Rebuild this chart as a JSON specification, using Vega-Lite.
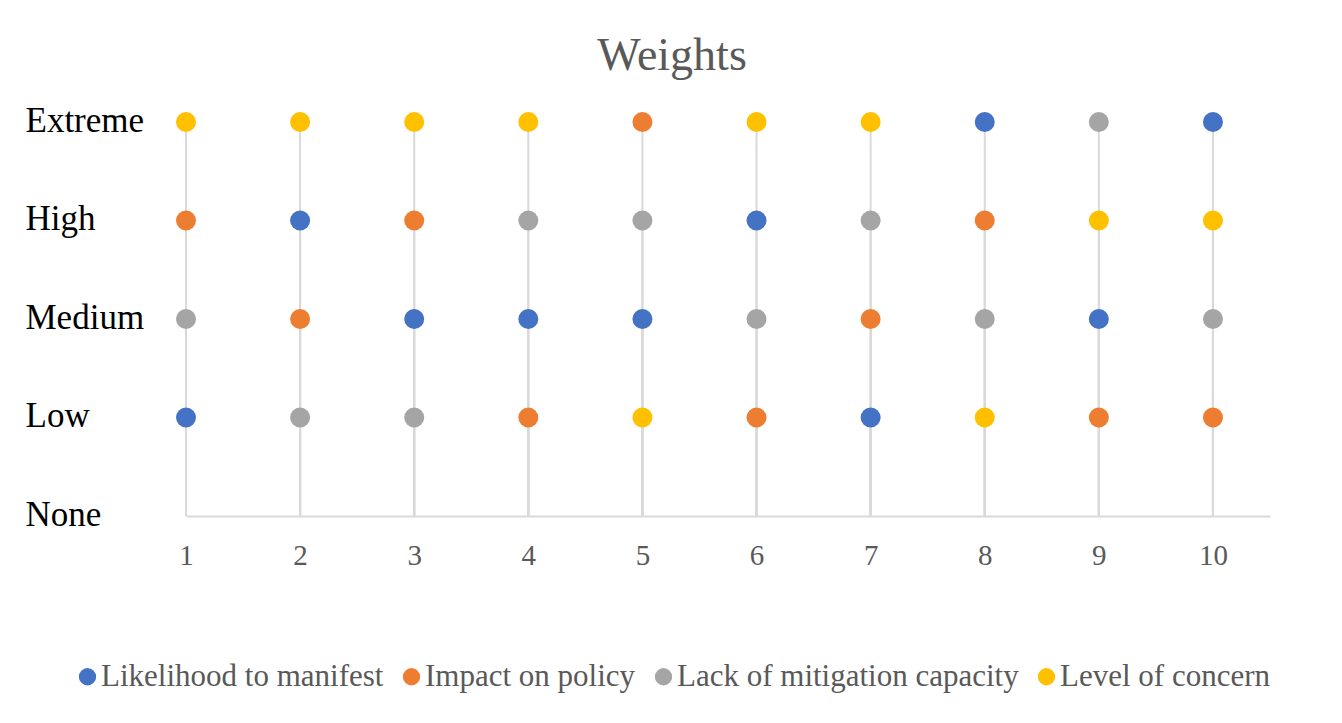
{
  "$schema": "https://vega.github.io/schema/vega-lite/v6.json",
  "width": 1084,
  "height": 394,
  "autosize": "none",
  "padding": {"left": 186, "top": 122, "right": 72, "bottom": 207},
  "background": "white",
  "title": {
    "text": "Weights",
    "font": "Liberation Serif",
    "fontSize": 46,
    "fontWeight": "normal",
    "color": "#595959",
    "anchor": "middle",
    "frame": "group",
    "dx": -56,
    "offset": 23
  },
  "config": {"view": {"stroke": null}},
  "data": {
    "values": [
      {"x": 1, "level": 4, "series": "Level of concern"},
      {"x": 1, "level": 3, "series": "Impact on policy"},
      {"x": 1, "level": 2, "series": "Lack of mitigation capacity"},
      {"x": 1, "level": 1, "series": "Likelihood to manifest"},
      {"x": 2, "level": 4, "series": "Level of concern"},
      {"x": 2, "level": 3, "series": "Likelihood to manifest"},
      {"x": 2, "level": 2, "series": "Impact on policy"},
      {"x": 2, "level": 1, "series": "Lack of mitigation capacity"},
      {"x": 3, "level": 4, "series": "Level of concern"},
      {"x": 3, "level": 3, "series": "Impact on policy"},
      {"x": 3, "level": 2, "series": "Likelihood to manifest"},
      {"x": 3, "level": 1, "series": "Lack of mitigation capacity"},
      {"x": 4, "level": 4, "series": "Level of concern"},
      {"x": 4, "level": 3, "series": "Lack of mitigation capacity"},
      {"x": 4, "level": 2, "series": "Likelihood to manifest"},
      {"x": 4, "level": 1, "series": "Impact on policy"},
      {"x": 5, "level": 4, "series": "Impact on policy"},
      {"x": 5, "level": 3, "series": "Lack of mitigation capacity"},
      {"x": 5, "level": 2, "series": "Likelihood to manifest"},
      {"x": 5, "level": 1, "series": "Level of concern"},
      {"x": 6, "level": 4, "series": "Level of concern"},
      {"x": 6, "level": 3, "series": "Likelihood to manifest"},
      {"x": 6, "level": 2, "series": "Lack of mitigation capacity"},
      {"x": 6, "level": 1, "series": "Impact on policy"},
      {"x": 7, "level": 4, "series": "Level of concern"},
      {"x": 7, "level": 3, "series": "Lack of mitigation capacity"},
      {"x": 7, "level": 2, "series": "Impact on policy"},
      {"x": 7, "level": 1, "series": "Likelihood to manifest"},
      {"x": 8, "level": 4, "series": "Likelihood to manifest"},
      {"x": 8, "level": 3, "series": "Impact on policy"},
      {"x": 8, "level": 2, "series": "Lack of mitigation capacity"},
      {"x": 8, "level": 1, "series": "Level of concern"},
      {"x": 9, "level": 4, "series": "Lack of mitigation capacity"},
      {"x": 9, "level": 3, "series": "Level of concern"},
      {"x": 9, "level": 2, "series": "Likelihood to manifest"},
      {"x": 9, "level": 1, "series": "Impact on policy"},
      {"x": 10, "level": 4, "series": "Likelihood to manifest"},
      {"x": 10, "level": 3, "series": "Level of concern"},
      {"x": 10, "level": 2, "series": "Lack of mitigation capacity"},
      {"x": 10, "level": 1, "series": "Impact on policy"}
    ]
  },
  "encoding": {
    "x": {
      "field": "x",
      "type": "quantitative",
      "scale": {"domain": [1, 10.5], "nice": false, "zero": false},
      "axis": {
        "values": [1, 2, 3, 4, 5, 6, 7, 8, 9, 10],
        "format": "d",
        "grid": false,
        "ticks": false,
        "domainColor": "#d9d9d9",
        "domainWidth": 2,
        "labelFont": "Liberation Serif",
        "labelFontSize": 29,
        "labelColor": "#595959",
        "labelPadding": 25,
        "labelFlush": false,
        "labelOverlap": false,
        "title": null
      }
    },
    "y": {
      "field": "level",
      "type": "quantitative",
      "scale": {"domain": [0, 4], "nice": false},
      "axis": {
        "values": [0, 1, 2, 3, 4],
        "labelExpr": "['None','Low','Medium','High','Extreme'][datum.value]",
        "grid": false,
        "ticks": false,
        "domain": false,
        "labelAlign": "left",
        "labelBaseline": "middle",
        "labelPadding": 161,
        "labelOffset": -2,
        "labelFont": "Liberation Serif",
        "labelFontSize": 35,
        "labelColor": "#000000",
        "labelFlush": false,
        "labelOverlap": false,
        "title": null
      }
    }
  },
  "layer": [
    {
      "mark": {"type": "rule", "color": "#d9d9d9", "strokeWidth": 2},
      "encoding": {"y2": {"datum": 0}}
    },
    {
      "mark": {"type": "point", "filled": true, "shape": "circle", "size": 400, "opacity": 1},
      "encoding": {
        "color": {
          "field": "series",
          "type": "nominal",
          "scale": {
            "domain": ["Likelihood to manifest", "Impact on policy", "Lack of mitigation capacity", "Level of concern"],
            "range": ["#4472C4", "#ED7D31", "#A5A5A5", "#FFC000"]
          },
          "legend": {
            "orient": "none",
            "legendX": -114,
            "legendY": 539,
            "direction": "horizontal",
            "title": null,
            "labelFont": "Liberation Serif",
            "labelFontSize": 31,
            "labelColor": "#595959",
            "labelLimit": 600,
            "symbolType": "circle",
            "symbolSize": 300,
            "symbolStrokeWidth": 0,
            "symbolOpacity": 1,
            "columnPadding": 12,
            "labelOffset": -2
          }
        }
      }
    }
  ]
}
